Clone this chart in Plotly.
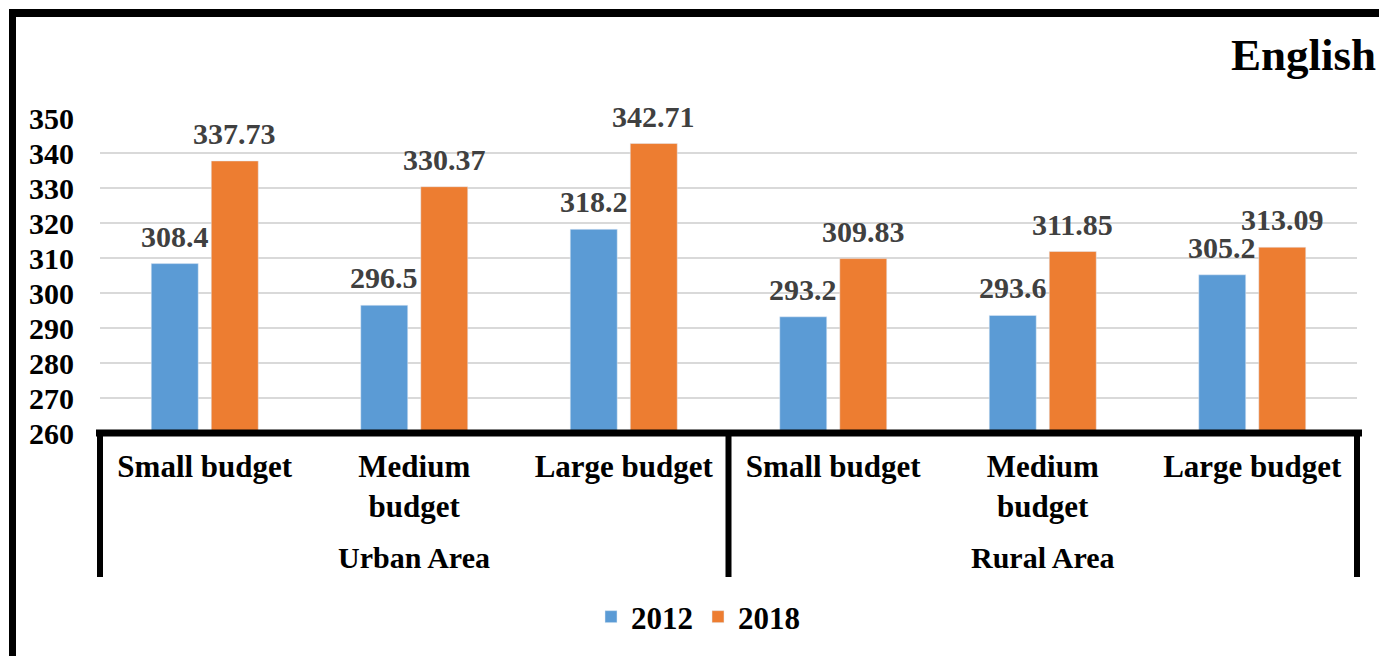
import plotly.graph_objects as go

# Scores by area and school budget
areas = ["Urban Area", "Rural Area"]
budgets = ["Small budget", "Medium<br>budget", "Large budget"]
scores_2012 = [308.4, 296.5, 318.2, 293.2, 293.6, 305.2]
scores_2018 = [337.73, 330.37, 342.71, 309.83, 311.85, 313.09]
y_ticks = [260, 270, 280, 290, 300, 310, 320, 330, 340, 350]

BLUE = "#5B9BD5"
ORANGE = "#ED7D31"
FONT = "Liberation Serif"

# one unique category key per bar pair, labelled with the budget name
keys = [f"{a}|{b}" for a in areas for b in budgets]
labels = [b for a in areas for b in budgets]

W, H = 1379, 656
L, R, T, B = 100, 22, 118, 223
PW, PH = W - L - R, H - T - B


def px_x(x):
    return (x - L) / PW


def px_y(y):
    return (H - B - y) / PH


fig = go.Figure()
fig.add_trace(go.Bar(x=keys, y=scores_2012, name="2012", marker_color=BLUE))
fig.add_trace(go.Bar(x=keys, y=scores_2018, name="2018", marker_color=ORANGE))

annotations = []
# value labels above each bar
for series, shift in ((scores_2012, -30), (scores_2018, 30)):
    for k, v in zip(keys, series):
        annotations.append(dict(
            x=k, y=v, xref="x", yref="y", text=str(v), showarrow=False,
            xshift=shift, yanchor="bottom", yshift=9,
            font=dict(family=FONT, size=30, color="#404040", weight="bold"),
        ))

# area group labels under the budget labels
for i, a in enumerate(areas):
    annotations.append(dict(
        x=0.25 + 0.5 * i, y=px_y(557), xref="paper", yref="paper", text=a,
        showarrow=False, xanchor="center", yanchor="middle",
        font=dict(family=FONT, size=30, color="black", weight="bold"),
    ))

annotations.append(dict(
    x=px_x(1378), y=px_y(55), xref="paper", yref="paper", text="English",
    showarrow=False, xanchor="right", yanchor="middle",
    font=dict(family=FONT, size=45, color="black", weight="bold"),
))

shapes = [
    # category axis line
    dict(type="line", xref="paper", yref="paper", x0=px_x(96), x1=px_x(1362),
         y0=0, y1=0, line=dict(color="black", width=7)),
    # outer frame: top and left edges
    dict(type="line", xref="paper", yref="paper", x0=px_x(9), x1=px_x(1390),
         y0=px_y(13), y1=px_y(13), line=dict(color="black", width=8)),
    dict(type="line", xref="paper", yref="paper", x0=px_x(12.5), x1=px_x(12.5),
         y0=px_y(9), y1=px_y(670), line=dict(color="black", width=7)),
]
# dividers between area groups
for xp in (0, 0.5, 1):
    shapes.append(dict(type="line", xref="paper", yref="paper", x0=xp, x1=xp,
                       y0=0, y1=px_y(577), line=dict(color="black", width=6)))

fig.update_layout(
    width=W, height=H,
    margin=dict(l=L, r=R, t=T, b=B),
    paper_bgcolor="white", plot_bgcolor="white",
    barmode="group", bargap=0.427, bargroupgap=0.217,
    font=dict(family=FONT, color="black"),
    showlegend=True,
    legend=dict(orientation="h", x=px_x(698), y=px_y(617), xanchor="center",
                yanchor="middle", font=dict(family=FONT, size=31, color="black",
                                            weight="bold")),
    annotations=annotations,
    shapes=shapes,
)
fig.update_xaxes(
    tickvals=keys, ticktext=labels, showline=False, showgrid=False,
    ticks="", ticklabelstandoff=12,
    tickfont=dict(family=FONT, size=31, color="black", weight="bold"),
)
fig.update_yaxes(
    range=[260, 350], tickvals=y_ticks, showline=False, zeroline=False,
    gridcolor="#D9D9D9", gridwidth=1.5, ticks="", ticklabelstandoff=25,
    tickfont=dict(family=FONT, size=30, color="black", weight="bold"),
)

fig.write_html("out.html")
